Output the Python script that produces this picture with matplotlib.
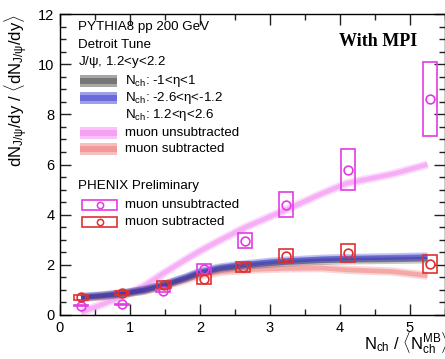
import matplotlib
matplotlib.use("Agg")
import matplotlib.pyplot as plt
from matplotlib.patches import Rectangle
from matplotlib.ticker import MultipleLocator

plt.rcParams["font.family"] = ["Liberation Sans", "DejaVu Sans"]
plt.rcParams["mathtext.fontset"] = "custom"
plt.rcParams["mathtext.rm"] = "Liberation Sans"
plt.rcParams["mathtext.it"] = "Liberation Sans"

# PHENIX preliminary points (x = Nch / <Nch^MB>)
data_x = [0.30, 0.88, 1.47, 2.06, 2.64, 3.23, 4.11, 5.29]
unsub_y = [0.37, 0.43, 0.97, 1.84, 2.97, 4.40, 5.80, 8.60]
unsub_sys = [0.02, 0.02, 0.05, 0.20, 0.31, 0.50, 0.83, 1.48]
sub_x = [0.30, 0.88, 1.48, 2.06, 2.61, 3.23, 4.11, 5.29]
sub_y = [0.71, 0.87, 1.20, 1.44, 1.91, 2.37, 2.47, 2.04]
sub_sys = [0.10, 0.07, 0.14, 0.20, 0.19, 0.28, 0.36, 0.37]

# PYTHIA8 curves
py_x = [0.3, 0.6, 0.9, 1.2, 1.5, 1.8, 2.0, 2.3, 2.65, 3.0, 3.25, 3.75, 4.1, 4.75, 5.25]
py_mid = [0.70, 0.76, 0.85, 0.98, 1.20, 1.47, 1.68, 1.85, 1.97, 2.05, 2.10, 2.16, 2.18, 2.20, 2.22]
py_fwd = [0.72, 0.78, 0.87, 1.00, 1.22, 1.50, 1.72, 1.90, 2.02, 2.12, 2.17, 2.24, 2.27, 2.30, 2.33]
py_unsub = [0.10, 0.42, 0.75, 1.15, 1.70, 2.22, 2.55, 3.00, 3.50, 3.92, 4.22, 4.85, 5.25, 5.62, 6.00]
py_sub = [0.68, 0.74, 0.83, 0.96, 1.17, 1.40, 1.58, 1.72, 1.80, 1.84, 1.86, 1.87, 1.80, 1.73, 1.57]

C_GRAY = "#3c3c3c"
C_BLUE = "#2a2ad0"
C_PINK = "#f27af2"
C_SALMON = "#ee7070"
C_MAG = "#e23ce2"
C_RED = "#e03030"

fig = plt.figure(figsize=(4.45, 3.59), dpi=100)
ax = fig.add_axes([60 / 445, 44 / 359, 385 / 445, 301 / 359])


def band(x, y, color, z):
    ax.plot(x, y, color=color, lw=6.0, alpha=0.28, solid_capstyle="butt", zorder=z)
    ax.plot(x, y, color=color, lw=3.4, alpha=0.45, solid_capstyle="butt", zorder=z)


band(py_x, py_unsub, C_PINK, 2)
band(py_x, py_sub, C_SALMON, 3)
band(py_x, py_mid, C_GRAY, 4)
band(py_x, py_fwd, C_BLUE, 5)

hw = 0.1
for x, y, s in zip(data_x, unsub_y, unsub_sys):
    ax.add_patch(Rectangle((x - hw, y - s), 2 * hw, 2 * s, fill=False,
                           ec=C_MAG, lw=1.2, zorder=6))
for x, y, s in zip(sub_x, sub_y, sub_sys):
    ax.add_patch(Rectangle((x - hw, y - s), 2 * hw, 2 * s, fill=False,
                           ec=C_RED, lw=1.2, zorder=7))
ax.plot(data_x, unsub_y, "o", mfc="none", mec=C_MAG, ms=6.3, mew=1.2, zorder=8)
ax.plot(sub_x, sub_y, "o", mfc="none", mec=C_RED, ms=6.3, mew=1.2, zorder=9)

ax.set_xlim(0, 5.5)
ax.set_ylim(0, 12)
ax.xaxis.set_major_locator(MultipleLocator(1))
ax.xaxis.set_minor_locator(MultipleLocator(0.5))
ax.yaxis.set_major_locator(MultipleLocator(2))
ax.yaxis.set_minor_locator(MultipleLocator(0.5))
ax.tick_params(which="both", direction="in", top=True, right=True,
               labelsize=10.5, width=1.0, color="#222222")
ax.tick_params(which="major", length=8, pad=4)
ax.tick_params(which="minor", length=4)
for s in ax.spines.values():
    s.set_linewidth(1.0)

ax.set_ylabel(r"dN$_{\mathregular{J/\psi}}$/dy / $\langle$dN$_{\mathregular{J/\psi}}$/dy$\rangle$",
              fontsize=12, loc="top", labelpad=6)
fig.text(364 / 445, 9 / 359,
         r"N$_{\mathregular{ch}}$ / $\langle$N$_{\mathregular{ch}}^{\mathregular{MB}}\rangle$",
         fontsize=12, ha="left", va="baseline")

# text block, top left
def px(xp, yp):
    return ((xp - 60) / 385, (315 - yp) / 301)


tk = dict(fontsize=9.6, ha="left", va="center", transform=ax.transAxes)
ax.text(*px(78, 27), "PYTHIA8 pp 200 GeV", **tk)
ax.text(*px(78, 45), "Detroit Tune", **tk)
ax.text(*px(78, 62), r"J/$\psi$, 1.2<y<2.2", **tk)

rows = [
    (80.7, C_GRAY, r"N$_{\mathregular{ch}}$: -1<$\eta$<1"),
    (98.3, C_BLUE, r"N$_{\mathregular{ch}}$: -2.6<$\eta$<-1.2"),
    (115.0, None, r"N$_{\mathregular{ch}}$: 1.2<$\eta$<2.6"),
    (132.7, C_PINK, "muon unsubtracted"),
    (149.3, C_SALMON, "muon subtracted"),
]
for yp, col, label in rows:
    if col is not None:
        x0, y0 = px(80, yp + 6)
        x1, y1 = px(117, yp - 6)
        ax.add_patch(Rectangle((x0, y0), x1 - x0, y1 - y0, transform=ax.transAxes,
                               fc=col, alpha=0.45, lw=0, zorder=10))
        x0, y0 = px(80, yp + 3)
        x1, y1 = px(117, yp - 3)
        ax.add_patch(Rectangle((x0, y0), x1 - x0, y1 - y0, transform=ax.transAxes,
                               fc=col, alpha=0.45, lw=0, zorder=10))
    ax.text(*px(125, yp), label, **tk)

ax.text(*px(78, 186), "PHENIX Preliminary", **tk)
for yp, col, label in [(205.0, C_MAG, "muon unsubtracted"), (221.7, C_RED, "muon subtracted")]:
    x0, y0 = px(82, yp + 5)
    x1, y1 = px(117, yp - 5)
    ax.add_patch(Rectangle((x0, y0), x1 - x0, y1 - y0, transform=ax.transAxes,
                           fill=False, ec=col, lw=1.2, zorder=10))
    ax.plot(*px(99.5, yp), "o", mfc="none", mec=col, ms=4.5, mew=1.1,
            transform=ax.transAxes, zorder=11)
    ax.text(*px(125, yp), label, **tk)

ax.text(*px(378, 42), "With MPI", fontsize=13, fontweight="bold",
        family="Liberation Serif", ha="center", va="center", transform=ax.transAxes)

fig.savefig("out.png", dpi=100)
